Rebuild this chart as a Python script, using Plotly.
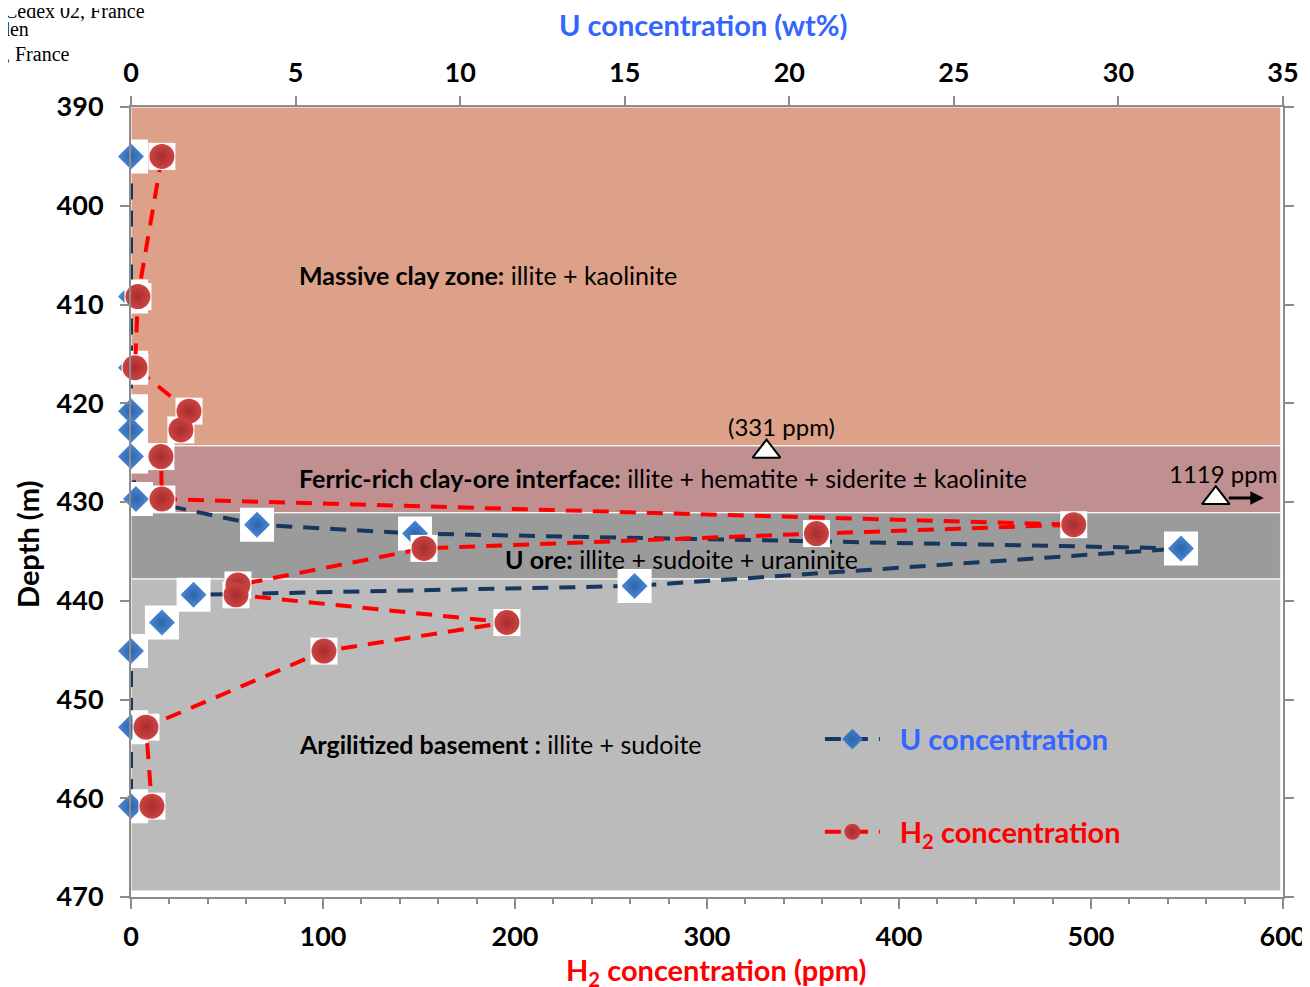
import plotly.graph_objects as go

# ---------------- data ----------------
depth_m = [395.0, 409.2, 416.4, 420.8, 422.7, 425.4, 429.7, 432.3, 433.2, 434.7,
           438.5, 439.4, 442.2, 445.1, 452.8, 460.8]
u_wt = [0.0, 0.0, 0.0, 0.0, 0.0, 0.0, 0.15, 3.83, 8.63, 31.9,
        15.3, 1.9, 0.94, 0.0, 0.0, 0.0]

h2_depth_m = [395.0, 409.2, 416.4, 420.8, 422.7, 425.4, 429.7, 432.3, 433.2, 434.7,
              438.4, 439.4, 442.2, 445.1, 452.8, 460.8]
h2_ppm = [16.1, 3.6, 2.1, 30.2, 26.0, 15.6, 16.1, 491.0, 357.0, 152.6,
          55.7, 54.7, 195.8, 100.5, 7.8, 10.9]

# off-scale H2 values (shown as open triangles)
outlier_ppm = [331, 1119]
outlier_depth = [424.9, 429.6]
outlier_labels = ["(331 ppm)", "1119 ppm"]
h2_axis_max = 600
offscale_pos = 565  # where off-scale values are drawn

# zones
zone_top = [390.0, 424.3, 431.1, 437.8]
zone_bottom = [424.3, 431.1, 437.8, 469.4]
zone_colors = ["#DDA189", "#C09091", "#9B9B9B", "#BBBBBB"]
zone_labels = ["<b>Massive clay zone:</b> illite + kaolinite",
               "<b>Ferric-rich clay-ore interface:</b> illite + hematite + siderite ± kaolinite",
               "<b>U ore:</b> illite + sudoite + uraninite",
               "<b>Argilitized basement :</b> illite + sudoite"]
zone_label_depth = [407.0, 427.6, 435.8, 454.5]
zone_label_x = [0.144, 0.144, 0.323, 0.144]

FONT = "Lato"
BLUE_TXT = "#3366FF"
RED_TXT = "#FF0000"

fig = go.Figure()

# ---- U concentration (top axis: base x axis) ----
fig.add_trace(go.Scatter(
    x=u_wt, y=depth_m, xaxis="x", yaxis="y", mode="lines+markers", cliponaxis=False,
    name='&nbsp;&nbsp;<span style="color:#3366FF"><b>U concentration</b></span>',
    legendgroup="u",
    line=dict(color="#17375E", width=4, dash="16px,11px"),
    marker=dict(symbol="diamond", size=20, color="#3F7FCF",
                gradient=dict(type="radial", color="#2E64A8"), line=dict(width=0)),
))
fig.add_trace(go.Scatter(
    x=u_wt, y=depth_m, xaxis="x", yaxis="y", mode="markers", showlegend=False, cliponaxis=False,
    marker=dict(symbol="square", size=34, color="white", line=dict(width=0)),
    hoverinfo="skip",
))
fig.add_trace(go.Scatter(
    x=u_wt, y=depth_m, xaxis="x", yaxis="y", mode="markers", showlegend=False, cliponaxis=False,
    marker=dict(symbol="diamond", size=20, color="#4A8AD8",
                gradient=dict(type="radial", color="#2E64A8"), line=dict(width=0)),
))

# ---- H2 concentration (bottom axis: overlaying x2, drawn on top) ----
fig.add_trace(go.Scatter(
    x=h2_ppm, y=h2_depth_m, xaxis="x2", yaxis="y", mode="lines+markers", cliponaxis=False,
    name='&nbsp;&nbsp;<span style="color:#FF0000"><b>H<sub>2</sub> concentration</b></span>',
    legendgroup="h2",
    line=dict(color="#FF0000", width=4, dash="16px,11px"),
    marker=dict(symbol="circle", size=25, color="#C94040",
                gradient=dict(type="radial", color="#A82C2C"), line=dict(width=0)),
))
fig.add_trace(go.Scatter(
    x=h2_ppm, y=h2_depth_m, xaxis="x2", yaxis="y", mode="markers", showlegend=False, cliponaxis=False,
    marker=dict(symbol="square", size=27, color="white", line=dict(width=0)),
    hoverinfo="skip",
))
fig.add_trace(go.Scatter(
    x=h2_ppm, y=h2_depth_m, xaxis="x2", yaxis="y", mode="markers", showlegend=False, cliponaxis=False,
    marker=dict(symbol="circle", size=25, color="#CC4444",
                gradient=dict(type="radial", color="#A82C2C"), line=dict(width=0)),
))

# ---- off-scale triangles ----
tri_x = [v if v <= h2_axis_max else offscale_pos for v in outlier_ppm]
fig.add_trace(go.Scatter(
    x=tri_x, y=outlier_depth, xaxis="x2", yaxis="y", mode="markers", showlegend=False,
    marker=dict(symbol="triangle-up", size=24, color="white",
                line=dict(color="black", width=2)),
))

shapes = []
for t, b, c in zip(zone_top, zone_bottom, zone_colors):
    shapes.append(dict(type="rect", xref="paper", yref="y", x0=0, x1=0.998, y0=t, y1=b,
                       fillcolor=c, line=dict(color="rgba(255,255,255,0.7)", width=1.5),
                       layer="below"))

annotations = []
for txt, d, xp in zip(zone_labels, zone_label_depth, zone_label_x):
    annotations.append(dict(text=txt, xref="paper", yref="y", x=xp, y=d,
                            xanchor="left", yanchor="middle", showarrow=False,
                            font=dict(family=FONT, size=25, color="black")))

# outlier labels
for lbl, v, d in zip(outlier_labels, outlier_ppm, outlier_depth):
    xpos = v if v <= h2_axis_max else offscale_pos
    annotations.append(dict(text=lbl, xref="x2", yref="y", x=xpos + (8 if v <= h2_axis_max else 4),
                            y=d - 2.5, xanchor="center", yanchor="middle", showarrow=False,
                            font=dict(family=FONT, size=24, color="black")))
# arrow for off-scale value
annotations.append(dict(xref="x2", yref="y", axref="x2", ayref="y",
                        x=590, y=outlier_depth[1], ax=offscale_pos + 6, ay=outlier_depth[1],
                        text="", showarrow=True, arrowhead=2, arrowsize=0.9,
                        arrowwidth=3, arrowcolor="black"))

# axis titles
annotations.append(dict(text="<b>Depth (m)</b>", xref="paper", yref="paper",
                        x=-0.0894, y=0.4456, textangle=-90, showarrow=False,
                        xanchor="center", yanchor="middle",
                        font=dict(family=FONT, size=29, color="black")))
annotations.append(dict(text="<b>U concentration (wt%)</b>", xref="paper", yref="paper",
                        x=0.497, y=1.105, showarrow=False, xanchor="center", yanchor="middle",
                        font=dict(family=FONT, size=29, color=BLUE_TXT)))
annotations.append(dict(text="<b>H<sub>2</sub> concentration (ppm)</b>", xref="paper", yref="paper",
                        x=0.508, y=-0.0937, showarrow=False, xanchor="center", yanchor="middle",
                        font=dict(family=FONT, size=29, color=RED_TXT)))

# cropped header text from source page
hdr = [("Cedex 02, France", 0.0139, 1.1215), ("eden", -0.0868, 1.0987), ("x, France", -0.0512, 1.067)]
for t, xp, yp in hdr:
    annotations.append(dict(text=t, xref="paper", yref="paper", x=xp, y=yp,
                            xanchor="right", yanchor="middle", showarrow=False,
                            font=dict(family="Liberation Serif", size=20, color="black")))

axis_line = "#8C8C8C"
tickfont = dict(family=FONT, size=27, color="black", weight="bold")
# page body has an 8px margin, so the figure is sized to fit the 1310x987 window
fig.update_layout(
    width=1302, height=979,
    margin=dict(l=123, r=27, t=99, b=90, autoexpand=False),
    paper_bgcolor="white", plot_bgcolor="white",
    shapes=shapes, annotations=annotations,
    xaxis=dict(range=[0, 35], dtick=5, side="top", anchor="y", automargin=False,
               showgrid=False, zeroline=False, showline=True, linecolor=axis_line, linewidth=2,
               ticks="outside", ticklen=9, tickwidth=2, tickcolor=axis_line,
               ticklabelstandoff=3, tickfont=tickfont),
    xaxis2=dict(range=[0, 600], dtick=100, overlaying="x", side="bottom", anchor="y",
                automargin=False, showgrid=False, zeroline=False,
                showline=True, linecolor=axis_line, linewidth=2,
                ticks="outside", ticklen=10, tickwidth=2, tickcolor=axis_line,
                minor=dict(dtick=20, ticks="outside", ticklen=5, tickwidth=2, tickcolor=axis_line,
                           showgrid=False),
                ticklabelstandoff=5, tickfont=tickfont),
    yaxis=dict(range=[470, 390], dtick=10, showgrid=False, zeroline=False, automargin=False,
               showline=True, linecolor=axis_line, linewidth=2, mirror="ticks",
               ticks="outside", ticklen=9, tickwidth=2, tickcolor=axis_line,
               ticklabelstandoff=11, tickfont=tickfont),
    legend=dict(x=0.598, y=0.232, xanchor="left", yanchor="top",
                bgcolor="rgba(0,0,0,0)", tracegroupgap=52, itemwidth=55,
                font=dict(family=FONT, size=29)),
    showlegend=True,
)

fig.write_html("out.html")
